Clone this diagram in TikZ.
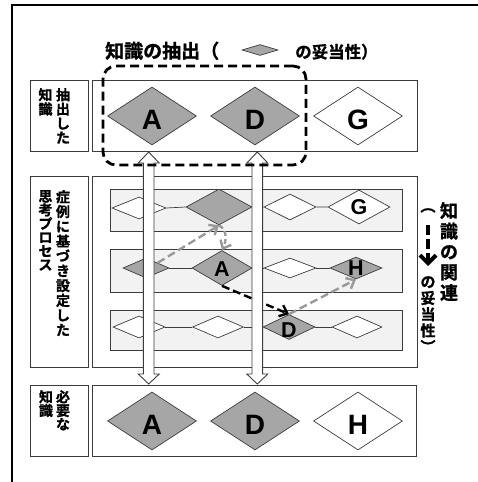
\documentclass[tikz,border=0pt]{standalone}
\usepackage{fontspec}
\setmainfont{Liberation Sans}
\newfontfamily\jp{Noto Sans CJK JP Bold}
\newfontfamily\jph{Noto Sans CJK JP Bold}[FakeBold=1.2]
\usetikzlibrary{shapes.geometric,arrows.meta}
\definecolor{dgray}{HTML}{A6A6A6}
\definecolor{rowfill}{HTML}{F2F2F2}
\definecolor{edge}{HTML}{3C3C3C}
\definecolor{garrow}{HTML}{999999}
\begin{document}
\begin{tikzpicture}[x=1pt,y=-1pt,
  box/.style={draw=edge, line width=0.9pt},
  rowbox/.style={draw=edge, fill=rowfill, line width=0.9pt},
  dia/.style n args={3}{diamond, draw=edge, line width=0.7pt, inner sep=0pt,
     minimum width=#1pt, minimum height=#2pt, fill=#3},
  bigl/.style={font=\bfseries\fontsize{28}{30}\selectfont, inner sep=0pt},
  rowl/.style={font=\bfseries\fontsize{21.5}{23}\selectfont, inner sep=0pt},
  vlab/.style={font=\jph\fontsize{14}{#1}\selectfont, align=center, inner sep=0pt, anchor=north},
  garr/.style={draw=garrow, line width=2.4pt, dash pattern=on 8pt off 4pt,
     -{Straight Barb[length=7pt,width=12pt]}},
  barr/.style={draw=black, line width=2.4pt, dash pattern=on 8pt off 4pt,
     -{Straight Barb[length=7pt,width=12pt]}},
  hollow/.style={draw=edge, fill=white, line width=0.9pt}
]
\useasboundingbox (0,0) rectangle (478,482);
% outer frame
\draw[line width=1.5pt] (478,5) -- (12,5) -- (12,482);

% title
\node[font=\jph\fontsize{19}{20}\selectfont, anchor=base west, inner sep=0pt] (t1) at (105,58) {知識の抽出};
\node[font=\jph\fontsize{19}{20}\selectfont, anchor=base west, inner sep=0pt] (t2) at (200,58) {（};
\node[dia={36}{11}{dgray}] (tdia) at (260,50) {};
\node[font=\jph\fontsize{16.5}{17}\selectfont, anchor=base west, inner sep=0pt] (t3) at (295,58) {の妥当性）};

% top row
\draw[box] (30,80) rectangle (88,151);
\draw[box] (92,80) rectangle (417,151);
\node[vlab=14.3] (l1r) at (63,88) {抽\\出\\し\\た};
\node[vlab=14.3] (l1l) at (45.5,88) {知\\識};
\node[dia={89}{58}{dgray}] (tA) at (152,116) {};
\node[dia={89}{58}{dgray}] (tD) at (255,116) {};
\node[dia={89}{58}{white}] (tG) at (358,116) {};
\node[bigl] (tAl) at ([yshift=-4pt]tA.center) {A};
\node[bigl] (tDl) at ([yshift=-4pt]tD.center) {D};
\node[bigl] (tGl) at ([yshift=-4pt]tG.center) {G};

% middle section
\draw[box] (30,176) rectangle (88,367);
\draw[box] (92,176) rectangle (417,367);
\node[vlab=14.8] (l2r) at (63,190) {症\\例\\に\\基\\づ\\き\\設\\定\\し\\た};
\node[vlab=13.7] (l2l) at (45.5,190) {思\\考\\プ\\ロ\\セ\\ス};

\draw[rowbox] (110,189) rectangle (402,231);
\draw[rowbox] (110,249) rectangle (402,292);
\draw[rowbox] (110,310) rectangle (402,350);

% row 1
\node[dia={54}{22}{white}] (r1a) at (139,208) {};
\node[dia={66}{36}{dgray}] (r1b) at (219,207) {};
\node[dia={52}{26}{white}] (r1c) at (290,207) {};
\node[dia={62}{34}{white}] (r1d) at (359,207) {};
% row 2
\node[dia={46}{20}{dgray}] (r2a) at (146,268) {};
\node[dia={60}{35}{dgray}] (r2b) at (222,268) {};
\node[dia={52}{20}{white}] (r2c) at (290,268) {};
\node[dia={52}{22}{dgray}] (r2d) at (356,268) {};
% row 3
\node[dia={52}{22}{white}] (r3a) at (139,327) {};
\node[dia={51}{22}{white}] (r3b) at (218,327) {};
\node[dia={52}{25}{dgray}] (r3c) at (289,327) {};
\node[dia={50}{22}{white}] (r3d) at (357,327) {};

% row lines (between neighbours)
\draw[edge, line width=0.7pt] (r1a.east) -- (r1b.west) (r1b.east) -- (r1c.west) (r1c.east) -- (r1d.west);
\draw[edge, line width=0.7pt] (r2a.east) -- (r2b.west) (r2b.east) -- (r2c.west) (r2c.east) -- (r2d.west);
\draw[edge, line width=0.7pt] (r3a.east) -- (r3b.west) (r3b.east) -- (r3c.west) (r3c.east) -- (r3d.west);

\node[rowl] (r1dl) at (r1d.center) {G};
\node[rowl] (r2bl) at ([yshift=-1.5pt]r2b.center) {A};
\node[rowl] (r2dl) at (r2d.center) {H};
\node[rowl] (r3cl) at ([yshift=-3pt]r3c.center) {D};

% relation arrows
\draw[garr] (r2a.north east) -- (r1b.south);
\draw[garr, dash pattern=on 5pt off 3pt] (r1b.south) .. controls (228,230) and (226,242) .. (r2b.north);
\draw[barr] (r2b.south) -- (r3c.north);
\draw[garr] (r3c.north) -- (r2d.south);

% bottom row
\draw[box] (30,385) rectangle (88,456);
\draw[box] (92,385) rectangle (416,456);
\node[vlab=13.7] (l3r) at (63,390) {必\\要\\な};
\node[vlab=13.7] (l3l) at (46,390) {知\\識};
\node[dia={89}{58}{dgray}] (bA) at (152,421) {};
\node[dia={89}{58}{dgray}] (bD) at (255,421) {};
\node[dia={89}{58}{white}] (bH) at (358,421) {};
\node[bigl] (bAl) at ([yshift=-4pt]bA.center) {A};
\node[bigl] (bDl) at ([yshift=-4pt]bD.center) {D};
\node[bigl] (bHl) at ([yshift=-4pt]bH.center) {H};

% hollow double arrows
\foreach \ax in {148.7,257.3}{
  \draw[hollow] (\ax,152) -- (\ax+10.5,163) -- (\ax+5.3,163) -- (\ax+5.3,374)
    -- (\ax+10.5,374) -- (\ax,384) -- (\ax-10.5,374) -- (\ax-5.3,374)
    -- (\ax-5.3,163) -- (\ax-10.5,163) -- cycle;
}

% dashed selection
\node[draw=black, line width=2.8pt, dash pattern=on 9pt off 5pt, rounded corners=13pt,
  minimum width=203pt, minimum height=99pt, inner sep=0pt] (sel) at (204.5,115.5) {};

% right vertical text
\node[font=\jph\fontsize{18}{20.5}\selectfont, align=center, inner sep=0pt, anchor=north] (rr) at (449,202) {知\\識\\の\\関\\連};
\node[font=\jph\fontsize{15}{16}\selectfont, inner sep=0pt, anchor=north] (rp) at (428,208) {︵};
\coordinate (ra1) at (428,225);
\coordinate (ra2) at (428,266);
\draw[draw=black, line width=4pt, dash pattern=on 10pt off 4pt, -{Straight Barb[length=8pt,width=16pt]}] (ra1) -- (ra2);
\node[font=\jph\fontsize{15}{16.3}\selectfont, align=center, inner sep=0pt, anchor=north] (rl) at (428,276) {の\\妥\\当\\性\\︶};
\end{tikzpicture}
\end{document}
